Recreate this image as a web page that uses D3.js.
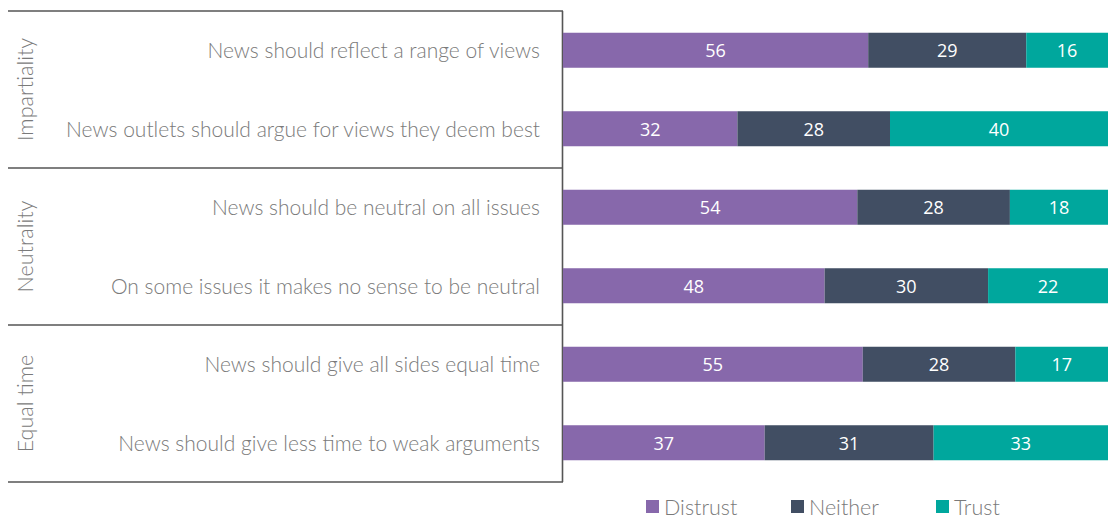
<!DOCTYPE html>
<html>
<head>
<meta charset="utf-8">
<script src="https://cdn.jsdelivr.net/npm/d3@7/dist/d3.min.js"></script>
<style>
  html, body { margin: 0; padding: 0; background: #fff; }
  svg { display: block; }
</style>
</head>
<body>
<svg id="chart" width="1108" height="519"></svg>
<script>
// Statements, grouped by principle
const groups = ["Impartiality", "Neutrality", "Equal time"];
const statements = [
  "News should reflect a range of views",
  "News outlets should argue for views they deem best",
  "News should be neutral on all issues",
  "On some issues it makes no sense to be neutral",
  "News should give all sides equal time",
  "News should give less time to weak arguments"
];
const seriesNames = ["Distrust", "Neither", "Trust"];
const distrust = [56, 32, 54, 48, 55, 37];
const neither  = [29, 28, 28, 30, 28, 31];
const trust    = [16, 40, 18, 22, 17, 33];
const colors = ["#8768AB", "#414E63", "#00A79D"];

const svg = d3.select("#chart");
const W = 1108;
const plotLeft = 563, plotTop = 11, plotBottom = 482;

const x = d3.scaleLinear().domain([0, 100]).range([plotLeft, plotLeft + 545]);
const y = d3.scaleBand().domain(statements).range([plotTop, plotBottom])
  .paddingInner(0.554).paddingOuter(0.277);
const color = d3.scaleOrdinal().domain(seriesNames).range(colors);

const rows = statements.map((s, i) => ({
  statement: s, Distrust: distrust[i], Neither: neither[i], Trust: trust[i]
}));
const stacked = d3.stack().keys(seriesNames)(rows);

// Table frame: group separators and the vertical rule
const step = y.step();
const frame = svg.append("g").attr("stroke", "#555").attr("stroke-width", 1.6);
d3.range(groups.length + 1).forEach(i => {
  const yy = plotTop + i * 2 * step;
  frame.append("line").attr("x1", 8).attr("x2", plotLeft).attr("y1", yy).attr("y2", yy);
});
frame.append("line").attr("x1", plotLeft - 0.5).attr("x2", plotLeft - 0.5)
  .attr("y1", plotTop).attr("y2", plotBottom);

// Group labels, rotated
svg.append("g").selectAll("text").data(groups).join("text")
  .attr("transform", (d, i) => `translate(33,${plotTop + (i * 2 + 1) * step}) rotate(-90)`)
  .attr("text-anchor", "middle")
  .attr("font-family", "Lato, sans-serif")
  .attr("font-weight", 300)
  .attr("font-size", 21.5)
  .attr("fill", "#7a7a7a")
  .text(d => d);

// Statement labels
svg.append("g").selectAll("text").data(statements).join("text")
  .attr("x", 540)
  .attr("y", d => y(d) + y.bandwidth() / 2)
  .attr("dy", "0.37em")
  .attr("text-anchor", "end")
  .attr("font-family", "Lato, sans-serif")
  .attr("font-weight", 300)
  .attr("font-size", 21)
  .attr("fill", "#7a7a7a")
  .text(d => d);

// Stacked bars
const layers = svg.append("g").selectAll("g").data(stacked).join("g")
  .attr("fill", d => color(d.key));
layers.selectAll("rect").data(d => d).join("rect")
  .attr("x", d => x(d[0]))
  .attr("width", d => x(d[1]) - x(d[0]))
  .attr("y", d => y(d.data.statement))
  .attr("height", y.bandwidth());

// Value labels
layers.selectAll("text").data(d => d.map(v => ({ v, key: d.key }))).join("text")
  .attr("x", d => (x(d.v[0]) + Math.min(x(d.v[1]), W)) / 2)
  .attr("y", d => y(d.v.data.statement) + y.bandwidth() / 2)
  .attr("dy", "0.38em")
  .attr("text-anchor", "middle")
  .attr("font-family", "'Open Sans', sans-serif")
  .attr("font-size", 18)
  .attr("fill", "#fff")
  .text(d => d.v.data[d.key]);

// Legend
const legendX = [646, 791, 936];
const legend = svg.append("g").selectAll("g").data(seriesNames).join("g")
  .attr("transform", (d, i) => `translate(${legendX[i]},500)`);
legend.append("rect").attr("width", 13).attr("height", 13).attr("fill", d => color(d));
legend.append("text")
  .attr("x", 18).attr("y", 14.5)
  .attr("font-family", "Lato, sans-serif")
  .attr("font-weight", 300)
  .attr("font-size", 21.5)
  .attr("fill", "#7a7a7a")
  .text(d => d);
</script>
</body>
</html>
